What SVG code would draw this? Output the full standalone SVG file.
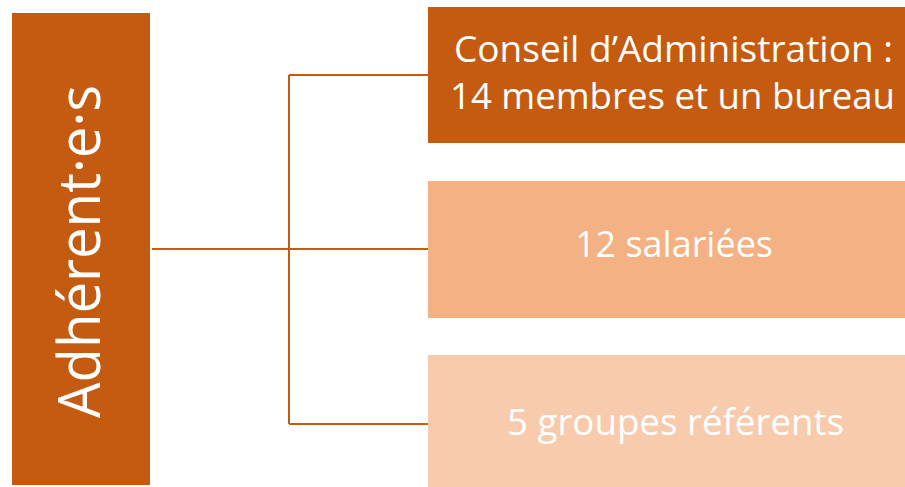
<svg xmlns="http://www.w3.org/2000/svg" width="905" height="487" viewBox="0 0 905 487">
  <style>
    .lbl { font-family: "Open Sans", "Noto Sans", "Liberation Sans", sans-serif; fill: #ffffff; }
    .dark { fill: #C55A11; }
    .mid { fill: #F4B183; }
    .light { fill: #F8CBAD; }
    .conn { fill: none; stroke: #C55A11; stroke-width: 2; }
  </style>

  <!-- tree connectors -->
  <g id="connectors">
    <path class="conn" d="M152,249 H289"/>
    <path class="conn" d="M289,75 V424"/>
    <path class="conn" d="M289,75 H428"/>
    <path class="conn" d="M289,249 H428"/>
    <path class="conn" d="M289,424 H428"/>
  </g>

  <!-- root: members -->
  <g id="adherents">
    <rect class="dark" x="12" y="13" width="138" height="472"/>
    <text class="lbl" font-size="58" text-anchor="middle" transform="translate(100,251.5) rotate(-90)" textLength="333" lengthAdjust="spacingAndGlyphs">Adhérent·e·s</text>
  </g>

  <!-- board -->
  <g id="conseil">
    <rect class="dark" x="428" y="7" width="477" height="136"/>
    <text class="lbl" font-size="37" x="454" y="62" textLength="439" lengthAdjust="spacingAndGlyphs">Conseil d’Administration :</text>
    <text class="lbl" font-size="37" x="450" y="109" textLength="445" lengthAdjust="spacingAndGlyphs">14 membres et un bureau</text>
  </g>

  <!-- staff -->
  <g id="salariees">
    <rect class="mid" x="428" y="181" width="477" height="137"/>
    <text class="lbl" font-size="37" x="575" y="257" textLength="198" lengthAdjust="spacingAndGlyphs">12 salariées</text>
  </g>

  <!-- reference groups -->
  <g id="groupes">
    <rect class="light" x="428" y="355" width="477" height="132"/>
    <text class="lbl" font-size="37" x="507" y="435" textLength="337" lengthAdjust="spacingAndGlyphs">5 groupes référents</text>
  </g>
</svg>
